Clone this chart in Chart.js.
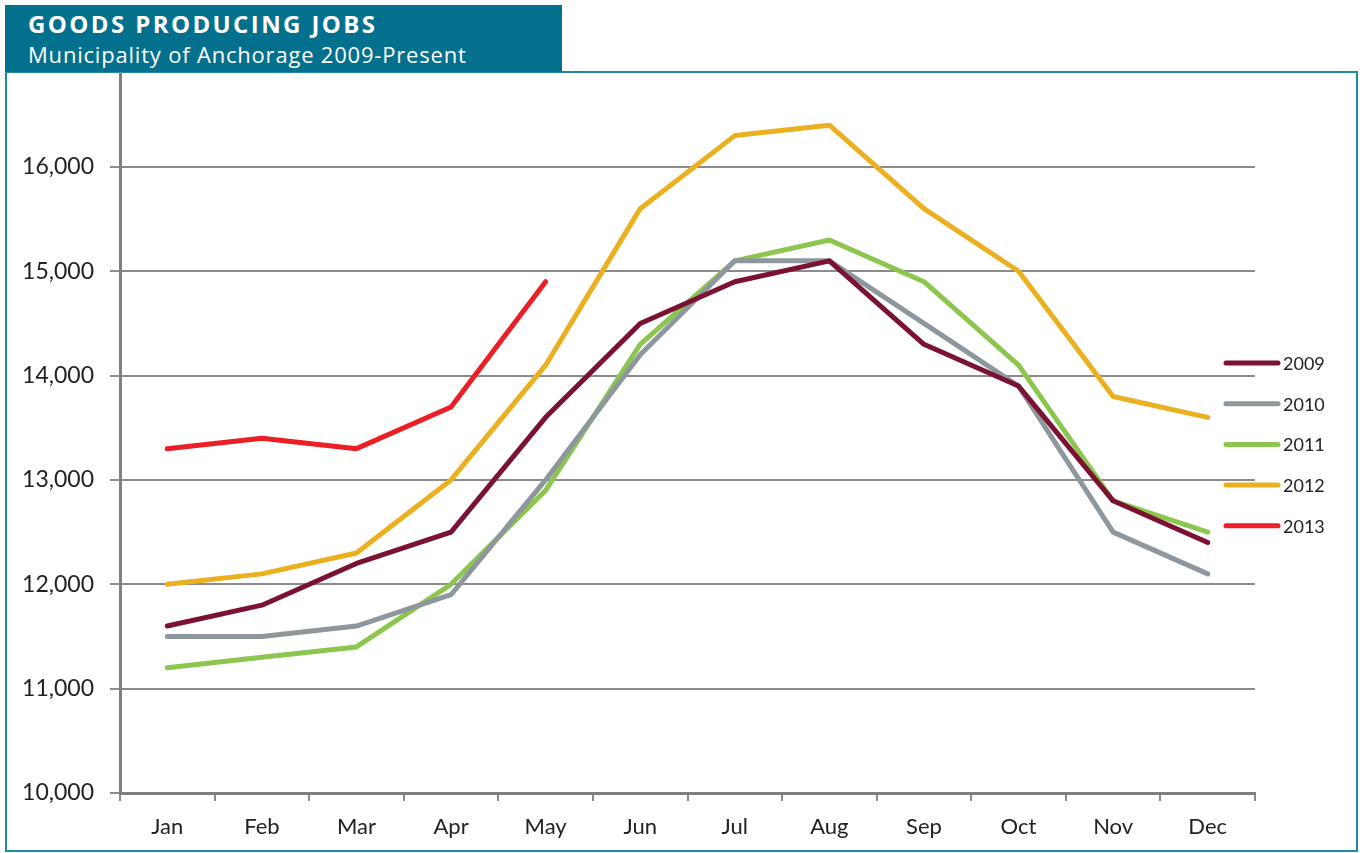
<!DOCTYPE html>
<html>
<head>
<meta charset="utf-8">
<script src="https://cdn.jsdelivr.net/npm/chart.js@4/dist/chart.umd.min.js"></script>
<style>
    body { margin: 0; background: #fff; }
    .wrap { position: relative; width: 1360px; height: 853px; overflow: hidden; }
    .frame {
        position: absolute; left: 5px; top: 71px; width: 1349px; height: 777px;
        border: 2px solid #1f8aa6;
    }
    .header {
        position: absolute; left: 5px; top: 5px; width: 557px; height: 67px;
        background: #03708d; color: #fff; font-family: "Open Sans", sans-serif;
    }
    .header .title { position: absolute; left: 23px; top: 2px; font-size: 24px; font-weight: 700; letter-spacing: 2.4px; }
    .header .sub { position: absolute; left: 23px; top: 34px; font-size: 22px; letter-spacing: 0.8px; }
    canvas { position: absolute; left: 0; top: 0; }
</style>
</head>
<body>
<div class="wrap">
    <div class="frame"></div>
    <div class="header">
        <div class="title">GOODS PRODUCING JOBS</div>
        <div class="sub">Municipality of Anchorage 2009-Present</div>
    </div>
    <canvas id="jobsChart" width="1360" height="853"></canvas>
</div>
<script>
// Month labels
const months = ['Jan', 'Feb', 'Mar', 'Apr', 'May', 'Jun', 'Jul', 'Aug', 'Sep', 'Oct', 'Nov', 'Dec'];

// Goods producing jobs per year
const jobs2009 = [11600, 11800, 12200, 12500, 13600, 14500, 14900, 15100, 14300, 13900, 12800, 12400];
const jobs2010 = [11500, 11500, 11600, 11900, 13000, 14200, 15100, 15100, 14500, 13900, 12500, 12100];
const jobs2011 = [11200, 11300, 11400, 12000, 12900, 14300, 15100, 15300, 14900, 14100, 12800, 12500];
const jobs2012 = [12000, 12100, 12300, 13000, 14100, 15600, 16300, 16400, 15600, 15000, 13800, 13600];
const jobs2013 = [13300, 13400, 13300, 13700, 14900];

const yTicks = [10000, 11000, 12000, 13000, 14000, 15000, 16000];

const series = [
    { label: '2009', data: jobs2009, color: '#7b1232' },
    { label: '2010', data: jobs2010, color: '#8f979e' },
    { label: '2011', data: jobs2011, color: '#8cc64f' },
    { label: '2012', data: jobs2012, color: '#ebb020' },
    { label: '2013', data: jobs2013, color: '#ec1f26' }
];

// Legend drawn on the right, overlapping the plot edge
const sideLegend = {
    id: 'sideLegend',
    afterDraw(chart) {
        const ctx = chart.ctx;
        ctx.save();
        chart.data.datasets.forEach((ds, i) => {
            const y = 363 + i * 40.7;
            ctx.strokeStyle = ds.borderColor;
            ctx.lineWidth = 5;
            ctx.lineCap = 'round';
            ctx.beginPath();
            ctx.moveTo(1226, y);
            ctx.lineTo(1278, y);
            ctx.stroke();
            ctx.fillStyle = '#222';
            ctx.font = '18px Lato, sans-serif';
            ctx.textBaseline = 'middle';
            ctx.fillText(ds.label, 1283, y + 1);
        });
        ctx.restore();
    }
};

const ctx = document.getElementById('jobsChart').getContext('2d');
new Chart(ctx, {
    type: 'line',
    data: {
        labels: months,
        datasets: series.map(s => ({
            label: s.label,
            data: s.data,
            borderColor: s.color,
            backgroundColor: s.color,
            borderWidth: 5,
            borderCapStyle: 'round',
            borderJoinStyle: 'round',
            pointRadius: 0,
            tension: 0,
            fill: false
        }))
    },
    options: {
        responsive: false,
        animation: false,
        layout: { padding: { top: 73, right: 105, bottom: 0, left: 0 } },
        plugins: {
            legend: { display: false },
            tooltip: { enabled: false }
        },
        scales: {
            x: {
                offset: true,
                afterFit: scale => { scale.height = 60; },
                grid: {
                    offset: true,
                    drawOnChartArea: false,
                    drawTicks: true,
                    tickLength: 8,
                    color: '#8c8c8c',
                    lineWidth: 2
                },
                border: { color: '#808080', width: 3 },
                ticks: {
                    color: '#222',
                    padding: 13,
                    font: { family: 'Lato, sans-serif', size: 22 }
                }
            },
            y: {
                min: 10000,
                max: 16900,
                afterFit: scale => { scale.width = 120; },
                afterBuildTicks: scale => {
                    scale.ticks = yTicks.map(v => ({ value: v }));
                },
                grid: {
                    color: '#8c8c8c',
                    lineWidth: 2,
                    tickLength: 10
                },
                border: { color: '#808080', width: 3 },
                ticks: {
                    color: '#222',
                    padding: 16,
                    font: { family: 'Lato, sans-serif', size: 23 },
                    callback: v => v.toLocaleString('en-US')
                }
            }
        }
    },
    plugins: [sideLegend]
});
</script>
</body>
</html>
